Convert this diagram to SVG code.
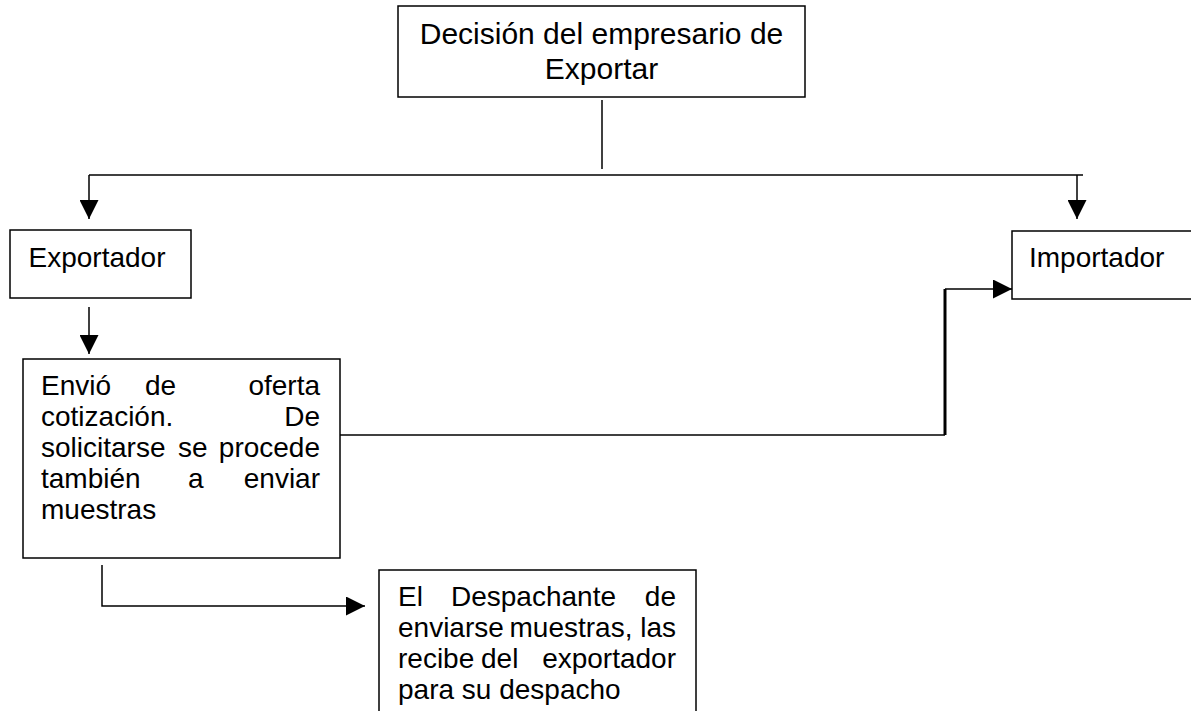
<svg xmlns="http://www.w3.org/2000/svg" width="1191" height="711" viewBox="0 0 1191 711">
<defs>
<style>
.box{fill:#fff;stroke:#000;stroke-width:1.5}
.t{font-family:"Liberation Sans",Arial,sans-serif;font-size:28px;fill:#000}
.tt{font-family:"Liberation Sans",Arial,sans-serif;font-size:30px;fill:#000}
.c{fill:none;stroke:#000;stroke-width:1.5}
.cb{fill:none;stroke:#000;stroke-width:3}
</style>
<marker id="ah" viewBox="0 0 19 19" refX="19" refY="9.5" markerWidth="19" markerHeight="19" markerUnits="userSpaceOnUse" orient="auto">
<path d="M0,0 L19,9.5 L0,19 z" fill="#000"/>
</marker>
</defs>
<rect width="1191" height="711" fill="#fff"/>
<g id="connectors">
<path class="c" d="M602,100 V169"/>
<path class="c" d="M89,175 H1083"/>
<path class="c" d="M89,175 V219" marker-end="url(#ah)"/>
<path class="c" d="M1077,175 V219" marker-end="url(#ah)"/>
<path class="c" d="M89,307 V354" marker-end="url(#ah)"/>
<path class="c" d="M340,435 H945"/>
<path class="cb" d="M945,435 V289"/>
<path class="c" d="M945,289 H1012" marker-end="url(#ah)"/>
<path class="c" d="M102,565 V606 H365" marker-end="url(#ah)"/>
</g>
<g id="decision">
<rect class="box" x="398" y="6" width="407" height="91"/>
<text class="tt" x="601.5" y="44" text-anchor="middle">Decisión del empresario de</text>
<text class="tt" x="601.5" y="79" text-anchor="middle">Exportar</text>
</g>
<g id="exportador">
<rect class="box" x="10" y="230" width="181" height="68"/>
<text class="t" x="28.5" y="267">Exportador</text>
</g>
<g id="importador">
<rect class="box" x="1012" y="231" width="190" height="68"/>
<text class="t" x="1029" y="267">Importador</text>
</g>
<g id="envio">
<rect class="box" x="23" y="359" width="317" height="199"/>
<text class="t" y="395"><tspan x="41">Envió</tspan><tspan x="145">de</tspan><tspan x="320" text-anchor="end">oferta</tspan></text>
<text class="t" y="426"><tspan x="41">cotización.</tspan><tspan x="320" text-anchor="end">De</tspan></text>
<text class="t" y="457"><tspan x="41">solicitarse</tspan><tspan x="178">se</tspan><tspan x="320" text-anchor="end">procede</tspan></text>
<text class="t" y="488"><tspan x="41">también</tspan><tspan x="188">a</tspan><tspan x="320" text-anchor="end">enviar</tspan></text>
<text class="t" y="519"><tspan x="41">muestras</tspan></text>
</g>
<g id="despachante">
<rect class="box" x="379" y="570" width="317" height="160"/>
<text class="t" y="606"><tspan x="398">El</tspan><tspan x="451">Despachante</tspan><tspan x="676" text-anchor="end">de</tspan></text>
<text class="t" y="637"><tspan x="398">enviarse</tspan><tspan x="676" text-anchor="end">muestras, las</tspan></text>
<text class="t" y="668"><tspan x="398">recibe</tspan><tspan x="481">del</tspan><tspan x="676" text-anchor="end">exportador</tspan></text>
<text class="t" y="699"><tspan x="398">para su despacho</tspan></text>
</g>
</svg>
